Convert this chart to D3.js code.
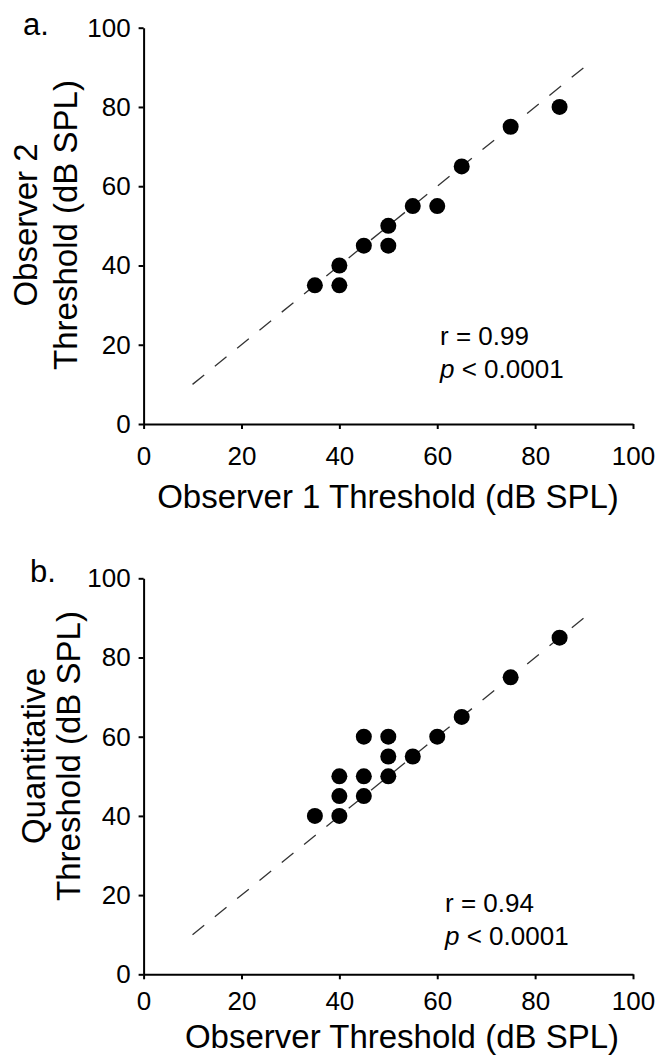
<!DOCTYPE html>
<html>
<head>
<meta charset="utf-8">
<script src="https://cdn.jsdelivr.net/npm/d3@7"></script>
<style>
  html, body { margin: 0; padding: 0; background: #fff; }
  svg { display: block; font-family: "Liberation Sans", Arial, sans-serif; }
</style>
</head>
<body>
<svg id="chart" width="660" height="1055"></svg>
<script>
// ---- data ----
const tickValues = [0, 20, 40, 60, 80, 100];
const panelALetter = "a.";
const panelBLetter = "b.";
const aX = [35, 40, 40, 45, 50, 50, 55, 60, 65, 75, 85];
const aY = [35, 40, 35, 45, 50, 45, 55, 55, 65, 75, 80];
const bX = [35, 40, 40, 40, 45, 45, 45, 50, 50, 50, 55, 60, 65, 75, 85];
const bY = [40, 40, 45, 50, 45, 50, 60, 50, 55, 60, 55, 60, 65, 75, 85];
const identityRange = [10, 90];
const aXTitle = "Observer 1 Threshold (dB SPL)";
const aYTitle = ["Observer 2", "Threshold (dB SPL)"];
const bXTitle = "Observer Threshold (dB SPL)";
const bYTitle = ["Quantitative", "Threshold (dB SPL)"];
const aStats = ["r = 0.99", "< 0.0001"];
const bStats = ["r = 0.94", "< 0.0001"];

const svg = d3.select("#chart");

function panel(cfg) {
  const x = d3.scaleLinear().domain([0, 100]).range([cfg.x0, cfg.x1]);
  const y = d3.scaleLinear().domain([0, 100]).range([cfg.y0, cfg.y1]);
  const g = svg.append("g");

  // identity dashed line
  g.append("line")
    .attr("x1", x(identityRange[0])).attr("y1", y(identityRange[0]))
    .attr("x2", x(identityRange[1])).attr("y2", y(identityRange[1]))
    .attr("stroke", "#333").attr("stroke-width", 1.3)
    .attr("stroke-dasharray", "15,13.7");

  // axes
  const xa = g.append("g").attr("transform", `translate(0,${cfg.y0})`)
    .call(d3.axisBottom(x).tickValues(tickValues).tickSize(5).tickSizeOuter(0).tickPadding(cfg.xPad));
  const ya = g.append("g").attr("transform", `translate(${cfg.x0},0)`)
    .call(d3.axisLeft(y).tickValues(tickValues).tickSize(5).tickSizeOuter(0).tickPadding(8));
  [xa, ya].forEach(a => {
    a.select(".domain").attr("stroke", "#000").attr("stroke-width", 2);
    a.selectAll(".tick line").attr("stroke", "#000").attr("stroke-width", 2);
    a.selectAll(".tick text").attr("fill", "#000").style("font-size", "26px")
      .style("font-family", "'Liberation Sans', Arial, sans-serif");
  });

  // points
  g.selectAll("circle.pt").data(cfg.xs.map((v, i) => [v, cfg.ys[i]]))
    .enter().append("circle").attr("class", "pt")
    .attr("cx", d => x(d[0])).attr("cy", d => y(d[1]))
    .attr("r", 8).attr("fill", "#000");

  // x title
  g.append("text").attr("x", cfg.xtX).attr("y", cfg.xtY)
    .attr("text-anchor", "middle").style("font-size", "33px").attr("fill", "#000")
    .text(cfg.xTitle);

  // y title (two lines)
  cfg.yTitle.forEach((t, i) => {
    g.append("text")
      .attr("transform", `translate(${cfg.ytX[i]},${cfg.ytY}) rotate(-90)`)
      .attr("text-anchor", "middle").style("font-size", "33px").attr("fill", "#000")
      .text(t);
  });

  // stats
  g.append("text").attr("x", cfg.sX).attr("y", cfg.sY[0])
    .style("font-size", "26px").attr("fill", "#000").text(cfg.stats[0]);
  const pt = g.append("text").attr("x", cfg.sX).attr("y", cfg.sY[1])
    .style("font-size", "26px").attr("fill", "#000");
  pt.append("tspan").style("font-style", "italic").text("p");
  pt.append("tspan").text(" " + cfg.stats[1]);

  // panel letter
  g.append("text").attr("x", cfg.lX).attr("y", cfg.lY)
    .style("font-size", "31px").attr("fill", "#000").text(cfg.letter);
}

panel({
  x0: 143.6, x1: 633, y0: 424, y1: 27.7, xPad: 18,
  xs: aX, ys: aY,
  xTitle: aXTitle, xtX: 388, xtY: 508,
  yTitle: aYTitle, ytX: [37, 77], ytY: 225,
  stats: aStats, sX: 440, sY: [345, 378],
  letter: panelALetter, lX: 23, lY: 35
});

panel({
  x0: 143.6, x1: 633, y0: 974.3, y1: 578.3, xPad: 12,
  xs: bX, ys: bY,
  xTitle: bXTitle, xtX: 402, xtY: 1048,
  yTitle: bYTitle, ytX: [45, 80], ytY: 756,
  stats: bStats, sX: 445, sY: [911.7, 945],
  letter: panelBLetter, lX: 30, lY: 582
});
</script>
</body>
</html>
